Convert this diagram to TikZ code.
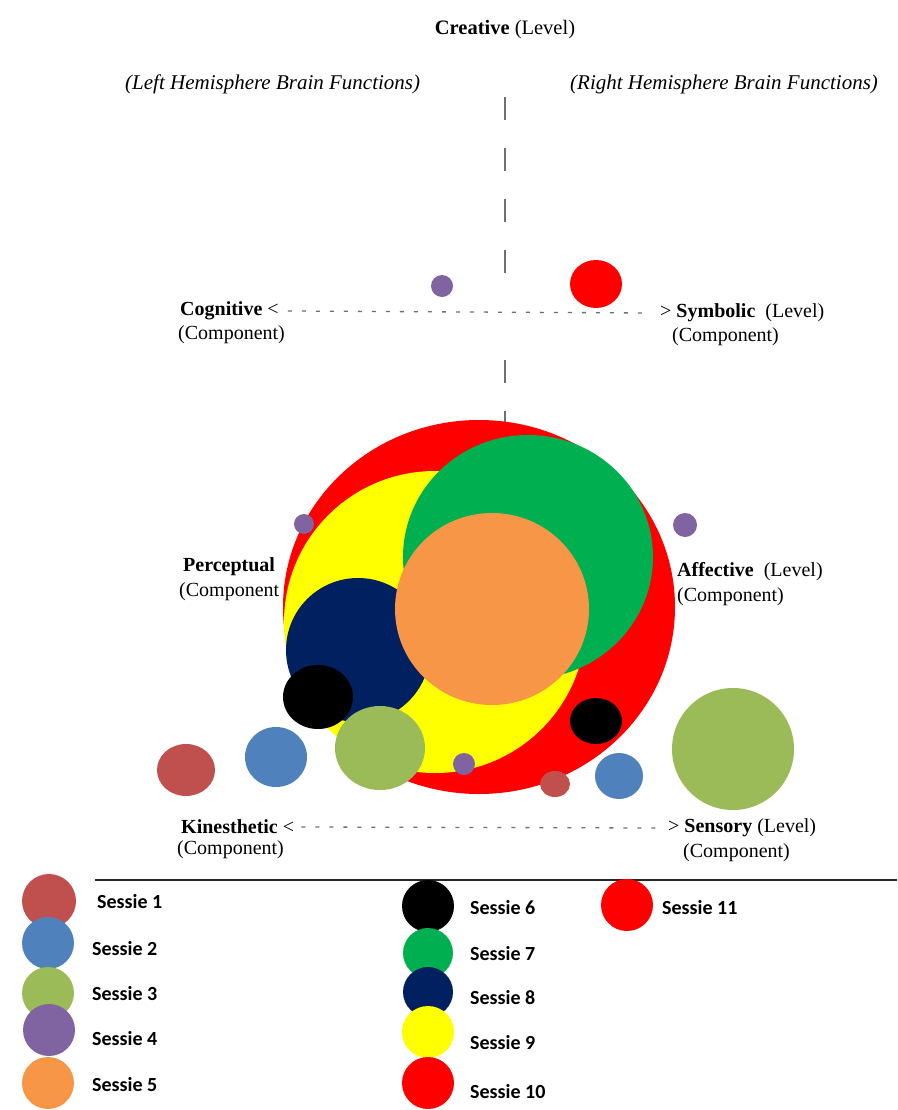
\documentclass[tikz,border=0pt]{standalone}
\usepackage{fontspec}
\setmainfont{Liberation Serif}
\newfontfamily\legfont{Carlito}
\definecolor{sOne}{HTML}{C0504D}
\definecolor{sTwo}{HTML}{4F81BD}
\definecolor{sThree}{HTML}{9BBB59}
\definecolor{sFour}{HTML}{8064A2}
\definecolor{sFive}{HTML}{F79646}
\definecolor{sSix}{HTML}{000000}
\definecolor{sSeven}{HTML}{00B050}
\definecolor{sEight}{HTML}{002060}
\definecolor{sNine}{HTML}{FFFF00}
\definecolor{sTen}{HTML}{FF0000}
\definecolor{axisgray}{HTML}{707070}
\begin{document}
\begin{tikzpicture}[x=1pt,y=-1pt,
  lab/.style={inner sep=0pt,anchor=west,font=\fontsize{20}{23}\selectfont},
  blab/.style={lab,font=\fontsize{20}{23}\selectfont\bfseries},
  hemi/.style={inner sep=0pt,anchor=west,font=\fontsize{21}{24}\selectfont\itshape},
  leg/.style={inner sep=0pt,anchor=west,font=\fontsize{20}{23}\selectfont\legfont\bfseries},
  vaxis/.style={draw=axisgray,line width=1.3pt,dash pattern=on 23pt off 28pt},
  haxis/.style={draw=axisgray,line width=1.3pt,dash pattern=on 4pt off 10pt},
]
\useasboundingbox[fill=white] (0,0) rectangle (897,1110);

% ---------- texts ----------
\node[inner sep=0pt,font=\fontsize{20.5}{23}\selectfont] (creative) at (505,30) {\textbf{Creative} (Level)};
\node[hemi] (lefth) at (125,84) {(Left Hemisphere Brain Functions)};
\node[hemi] (righth) at (570,84) {(Right Hemisphere Brain Functions)};

\node[blab] (cog) at (180,311) {Cognitive \mdseries<};
\node[lab] (cogc) at (178,335) {(Component)};
\node[lab] (sym) at (660,313) {> \textbf{Symbolic}\ \ (Level)};
\node[lab] (symc) at (672,337) {(Component)};

\node[blab] (kin) at (181,827) {Kinesthetic \mdseries<};
\node[lab] (kinc) at (177,850) {(Component)};
\node[lab] (sen) at (668,828) {> \textbf{Sensory} (Level)};
\node[lab] (senc) at (683,853) {(Component)};

% ---------- axes ----------
\coordinate (vtop) at (505,97);
\coordinate (vmid) at (505,275);
\coordinate (vlow) at (505,360);
\coordinate (vbot) at (505,424);
\draw[vaxis] (vtop) -- (vmid);
\draw[vaxis] (vlow) -- (vbot);
\draw[haxis] ([xshift=9pt]cog.east) -- ([xshift=-10pt]sym.west);
\draw[haxis] ([xshift=7pt]kin.east) -- ([xshift=-5pt]sen.west);

% ---------- session circles ----------
\fill[sTen]   (479,607) ellipse [x radius=196pt, y radius=187pt];
\fill[sNine]  (435,622) circle [radius=151pt];
\fill[sEight] (358,650) circle [radius=72pt];
\fill[sSeven] (528,557) ellipse [x radius=125pt, y radius=122pt];
\fill[sFive]  (492,609) ellipse [x radius=97pt, y radius=96pt];
\fill[sSix]   (318,697) ellipse [x radius=35pt, y radius=32pt];
\fill[sThree] (380,748) ellipse [x radius=45pt, y radius=42pt];
\fill[sFour]  (464,764) circle [radius=11pt];
\fill[sSix]   (596,721) ellipse [x radius=26pt, y radius=23pt];
\fill[sOne]   (555,784) ellipse [x radius=15pt, y radius=13pt];
\fill[sTwo]   (619,776) ellipse [x radius=24pt, y radius=23pt];
\fill[sFour]  (304,524) circle [radius=10pt];
\fill[sFour]  (685,525) circle [radius=12pt];
\fill[sThree] (733,749) ellipse [x radius=61pt, y radius=61pt];
\fill[sTwo]   (276,757) ellipse [x radius=31pt, y radius=30pt];
\fill[sOne]   (186,770) ellipse [x radius=29pt, y radius=26pt];
\fill[sFour]  (442,286) circle [radius=11pt];
\fill[sTen]   (596,284) ellipse [x radius=26pt, y radius=24pt];

\node[blab] (perc) at (183,567) {Perceptual};
\node[lab] (percc) at (179,592) {(Component};
\node[lab] (aff) at (677,572) {\textbf{Affective}\ \ (Level)};
\node[lab] (affc) at (677,597) {(Component)};

% ---------- legend ----------
\coordinate (rulel) at (95,880);
\coordinate (ruler) at (897,880);
\draw[line width=1.6pt,black!85] (rulel) -- (ruler);

\fill[sOne]   (49,901)  circle [radius=27pt];
\fill[sTwo]   (48,943)  circle [radius=26pt];
\fill[sThree] (48,993)  circle [radius=26pt];
\fill[sFour]  (49,1030) circle [radius=26pt];
\fill[sFive]  (48,1083) circle [radius=26pt];
\node[leg] (l1) at (97,902)  {Sessie 1};
\node[leg] (l2) at (92,949)  {Sessie 2};
\node[leg] (l3) at (92,994)  {Sessie 3};
\node[leg] (l4) at (92,1039) {Sessie 4};
\node[leg] (l5) at (92,1085) {Sessie 5};

\fill[sSix]   (428,906)  circle [radius=26pt];
\fill[sSeven] (428,953)  circle [radius=25pt];
\fill[sEight] (428,992)  circle [radius=25pt];
\fill[sNine]  (428,1032) circle [radius=26pt];
\fill[sTen]   (428,1083) circle [radius=26pt];
\node[leg] (l6)  at (470,908)  {Sessie 6};
\node[leg] (l7)  at (470,954)  {Sessie 7};
\node[leg] (l8)  at (470,998)  {Sessie 8};
\node[leg] (l9)  at (470,1043) {Sessie 9};
\node[leg] (l10) at (470,1092) {Sessie 10};

\fill[sTen]   (627,905)  circle [radius=26pt];
\node[leg] (l11) at (662,908) {Sessie 11};
\end{tikzpicture}
\end{document}
